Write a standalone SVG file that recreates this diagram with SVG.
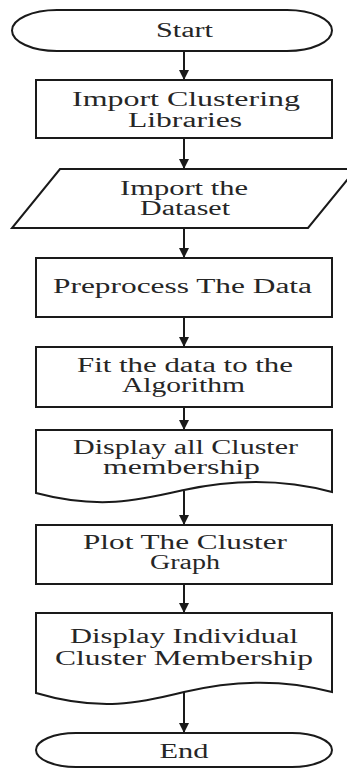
<svg xmlns="http://www.w3.org/2000/svg" width="347" height="770" viewBox="0 0 347 770">
  <style>
    .shape { fill: #ffffff; stroke: #1a1a1a; stroke-width: 2; }
    .label { font-family: "Liberation Serif", "Times New Roman", serif; font-size: 20px; fill: #262626; text-anchor: middle; }
    .conn { stroke: #1a1a1a; stroke-width: 2; fill: none; marker-end: url(#arrow); }
  </style>
  <defs>
    <marker id="arrow" markerUnits="userSpaceOnUse" markerWidth="12" markerHeight="10" refX="10" refY="5" orient="auto">
      <path d="M0,0 L10,5 L0,10 Z" fill="#1a1a1a"/>
    </marker>
  </defs>
  <rect width="347" height="770" fill="#ffffff"/>

  <g id="connectors">
    <line class="conn" x1="184" y1="51" x2="184" y2="80"/>
    <line class="conn" x1="184" y1="138" x2="184" y2="169"/>
    <line class="conn" x1="184" y1="228" x2="184" y2="258"/>
    <line class="conn" x1="184" y1="317" x2="184" y2="347"/>
    <line class="conn" x1="184" y1="407" x2="184" y2="430"/>
    <line class="conn" x1="184" y1="491" x2="184" y2="525"/>
    <line class="conn" x1="184" y1="584" x2="184" y2="613"/>
    <line class="conn" x1="184" y1="692" x2="184" y2="733"/>
  </g>

  <g id="start">
    <path class="shape" d="M57,10 H287 A45,20.5 0 0 1 287,51 H57 A45,20.5 0 0 1 57,10 Z"/>
    <text class="label" x="184.5" y="37" textLength="57" lengthAdjust="spacingAndGlyphs">Start</text>
  </g>

  <g id="import-libraries">
    <rect class="shape" x="36" y="80" width="296" height="58"/>
    <text class="label" x="186" y="106" textLength="228" lengthAdjust="spacingAndGlyphs">Import Clustering</text>
    <text class="label" x="185" y="127" textLength="114" lengthAdjust="spacingAndGlyphs">Libraries</text>
  </g>

  <g id="import-dataset">
    <path class="shape" d="M60,169 H356 L308,228 H12 Z"/>
    <text class="label" x="184" y="195" textLength="128" lengthAdjust="spacingAndGlyphs">Import the</text>
    <text class="label" x="185" y="215" textLength="90" lengthAdjust="spacingAndGlyphs">Dataset</text>
  </g>

  <g id="preprocess">
    <rect class="shape" x="36" y="258" width="296" height="59"/>
    <text class="label" x="182.5" y="293" textLength="259" lengthAdjust="spacingAndGlyphs">Preprocess The Data</text>
  </g>

  <g id="fit-algorithm">
    <rect class="shape" x="36" y="347" width="296" height="60"/>
    <text class="label" x="185" y="372" textLength="216" lengthAdjust="spacingAndGlyphs">Fit the data to the</text>
    <text class="label" x="183.5" y="392" textLength="123" lengthAdjust="spacingAndGlyphs">Algorithm</text>
  </g>

  <g id="display-all">
    <path class="shape" d="M36,430 H332 V492 C280,478 230,480 184,490 C140,500 100,510 36,493 Z"/>
    <text class="label" x="185.5" y="454" textLength="225" lengthAdjust="spacingAndGlyphs">Display all Cluster</text>
    <text class="label" x="181.5" y="474" textLength="157" lengthAdjust="spacingAndGlyphs">membership</text>
  </g>

  <g id="plot-graph">
    <rect class="shape" x="36" y="525" width="296" height="59"/>
    <text class="label" x="185" y="549" textLength="204" lengthAdjust="spacingAndGlyphs">Plot The Cluster</text>
    <text class="label" x="185" y="569" textLength="70" lengthAdjust="spacingAndGlyphs">Graph</text>
  </g>

  <g id="display-individual">
    <path class="shape" d="M36,613 H332 V692 C280,678 230,681 184,692 C140,703 100,712 36,693 Z"/>
    <text class="label" x="184" y="643" textLength="228" lengthAdjust="spacingAndGlyphs">Display Individual</text>
    <text class="label" x="184" y="665" textLength="258" lengthAdjust="spacingAndGlyphs">Cluster Membership</text>
  </g>

  <g id="end">
    <path class="shape" d="M76,733 H292 A40,17 0 0 1 292,767 H76 A40,17 0 0 1 76,733 Z"/>
    <text class="label" x="184" y="758" textLength="49" lengthAdjust="spacingAndGlyphs">End</text>
  </g>
</svg>
